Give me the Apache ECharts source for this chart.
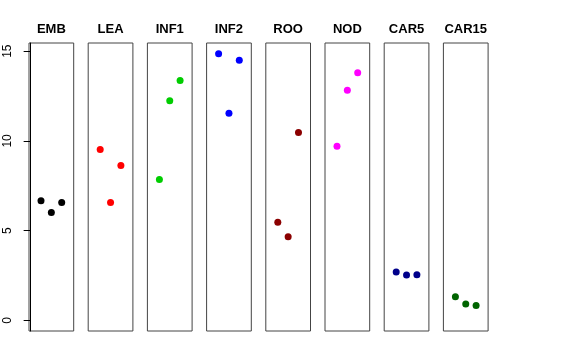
<!DOCTYPE html>
<html>
<head>
<meta charset="utf-8">
<script src="https://cdn.jsdelivr.net/npm/echarts@6/dist/echarts.min.js"></script>
<style>html,body{margin:0;padding:0;background:#fff;}#c{width:576px;height:360px;}</style>
</head>
<body>
<div id="c"></div>
<script>
var panels = ['EMB','LEA','INF1','INF2','ROO','NOD','CAR5','CAR15'];
var xPositions = [1, 2, 3];
var EMB = [6.66, 6.01, 6.57];
var LEA = [9.52, 6.57, 8.63];
var INF1 = [7.85, 12.23, 13.36];
var INF2 = [14.86, 11.54, 14.49];
var ROO = [5.47, 4.66, 10.46];
var NOD = [9.70, 12.82, 13.80];
var CAR5 = [2.69, 2.52, 2.54];
var CAR15 = [1.32, 0.91, 0.82];
var yTicks = [0, 5, 10, 15];
var colors = ['#000000','#FF0000','#00CD00','#0000FF','#8B0000','#FF00FF','#00008B','#006400'];

(function () {
var values = [EMB, LEA, INF1, INF2, ROO, NOD, CAR5, CAR15];
var yMin = -0.594, yMax = 15.454;
var grids = [], xAxes = [], yAxes = [], series = [], titles = [];
var left0 = 29, step = 59.2, w = 44.7, gTop = 43, gH = 288;
for (var i = 0; i < panels.length; i++) {
  var l = left0 + i * step;
  grids.push({left: l, top: gTop, width: w, height: gH, show: true, borderColor: '#444', borderWidth: 1, backgroundColor: 'transparent'});
  xAxes.push({type: 'value', gridIndex: i, min: -0.16, max: 4.16, show: false});
  yAxes.push({
    type: 'value', gridIndex: i, min: yMin, max: yMax,
    show: i === 0,
    splitLine: {show: false},
    axisLine: {show: i === 0, lineStyle: {color: '#000', width: 1}},
    axisTick: {show: i === 0, length: 7, lineStyle: {color: '#000'}, customValues: yTicks},
    axisLabel: {show: i === 0, rotate: 90, margin: 15, color: '#000', fontSize: 12, fontFamily: 'Liberation Sans', customValues: yTicks}
  });
  series.push({
    type: 'scatter', xAxisIndex: i, yAxisIndex: i, symbolSize: 7,
    itemStyle: {color: colors[i], opacity: 1},
    data: xPositions.map(function (x, j) { return [x, values[i][j]]; })
  });
  titles.push({text: panels[i], left: l + w / 2, top: 21, textAlign: 'center', padding: [2, 0, 2, 0],
    textStyle: {fontFamily: 'Liberation Sans', fontWeight: 'bold', fontSize: 13, color: '#000'}});
}
var chart = echarts.init(document.getElementById('c'), null, {renderer: 'canvas'});
chart.setOption({animation: false, title: titles, grid: grids, xAxis: xAxes, yAxis: yAxes, series: series});
})();
</script>
</body>
</html>
